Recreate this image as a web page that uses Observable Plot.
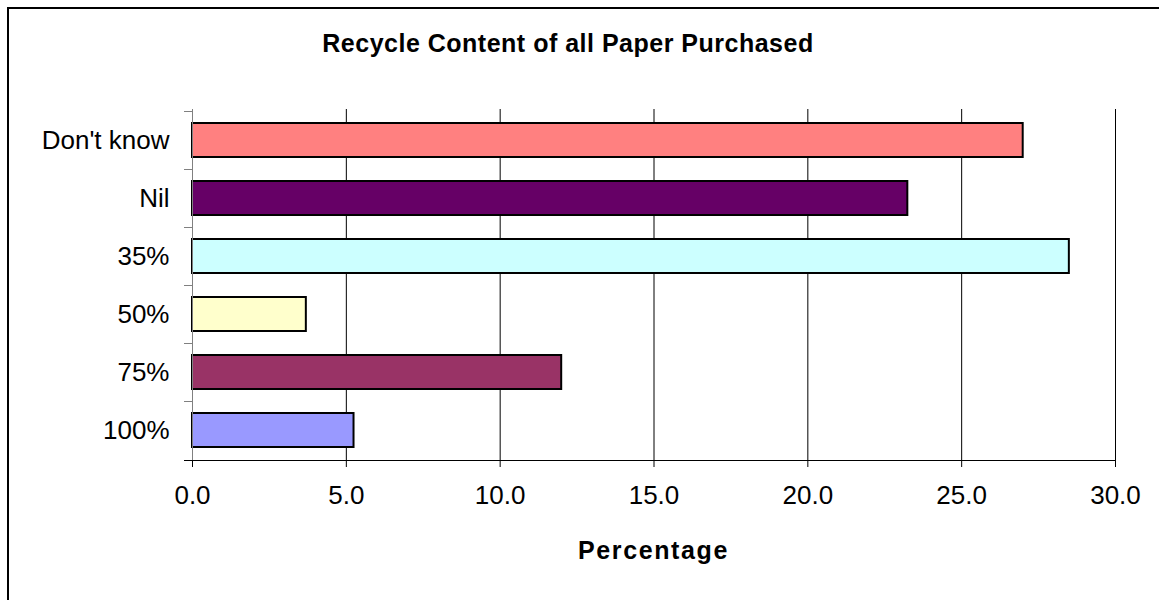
<!DOCTYPE html>
<html>
<head>
<meta charset="utf-8">
<script src="https://cdn.jsdelivr.net/npm/d3@7"></script>
<script src="https://cdn.jsdelivr.net/npm/@observablehq/plot@0.6"></script>
<style>
  html, body { margin: 0; padding: 0; background: #fff; width: 1159px; height: 600px; overflow: hidden; }
  #frame { position: absolute; left: 7px; top: 7px; width: 1200px; height: 700px; border: 2px solid #000; box-sizing: border-box; }
  #chart { position: absolute; left: 0; top: 0; }
  .ttl { position: absolute; font-family: "Liberation Sans", Arial, sans-serif; font-weight: bold; font-size: 25px; line-height: 25px; text-align: center; color: #000; white-space: nowrap; }
  #title { left: 68px; width: 1000px; top: 31px; letter-spacing: 0.5px; }
  #xlabel { left: 153.5px; width: 1000px; top: 538px; letter-spacing: 1.6px; }
</style>
</head>
<body>
<div id="frame"></div>
<div id="chart"></div>
<div id="title" class="ttl">Recycle Content of all Paper Purchased</div>
<div id="xlabel" class="ttl">Percentage</div>
<script>
const categories = ["Don't know", "Nil", "35%", "50%", "75%", "100%"];
const values = [27.0, 23.25, 28.5, 3.7, 12.0, 5.25];
const colors = ["#FF8080", "#660066", "#CCFFFF", "#FFFFCC", "#993366", "#9999FF"];
const xTicks = [0, 5, 10, 15, 20, 25, 30];
const gridTicks = [5, 10, 15, 20, 25, 30];

const data = categories.map((c, i) => ({category: c, value: values[i], color: colors[i]}));
const padInner = 0.42;
const padOuter = padInner / 2;

// category boundary ticks (left of the category axis) and the bottom axis line, from the y band scale
function categoryBoundaryTicks(index, scales, vals, dims) {
  const y = scales.y;
  const step = y(categories[1]) - y(categories[0]);
  const g = d3.create("svg:g");
  const x0 = dims.marginLeft;
  const bounds = categories.map(c => y(c) - step * padInner / 2);
  bounds.forEach(b => {
    const yy = Math.round(b) + 0.5;
    g.append("line").attr("x1", x0 - 8).attr("x2", x0).attr("y1", yy).attr("y2", yy)
      .attr("stroke", "#808080").attr("stroke-width", 1);
  });
  const yb = dims.height - dims.marginBottom + 0.5;
  g.append("line").attr("x1", x0 - 8).attr("x2", dims.width - dims.marginRight + 0.5).attr("y1", yb).attr("y2", yb)
    .attr("stroke", "#000").attr("stroke-width", 1);
  return g.node();
}

const chart = Plot.plot({
  width: 1159,
  height: 600,
  marginLeft: 192,
  marginRight: 44,
  marginTop: 109,
  marginBottom: 140,
  style: {fontFamily: "'Liberation Sans', Arial, sans-serif", fontSize: "26px", color: "#000", background: "transparent"},
  x: {domain: [0, 30], label: null},
  y: {domain: categories, paddingInner: padInner, paddingOuter: padOuter, label: null},
  marks: [
    Plot.ruleX(gridTicks, {x: d => d, stroke: "#000", strokeWidth: 1}),
    Plot.barX(data, {y: "category", x: "value", fill: "color", stroke: "#000", strokeWidth: 2}),
    Plot.ruleX([0], {stroke: "#808080", strokeWidth: 1, insetBottom: -7}),
    Plot.axisX({ticks: xTicks, tickFormat: d3.format(".1f"), tickSize: 7, tickPadding: 18, stroke: "#000", fill: "#000", label: null, fontSize: 26}),
    Plot.axisY({tickSize: 0, tickPadding: 23, fill: "#000", label: null, fontSize: 26}),
    categoryBoundaryTicks
  ]
});
document.getElementById("chart").appendChild(chart);
</script>
</body>
</html>
